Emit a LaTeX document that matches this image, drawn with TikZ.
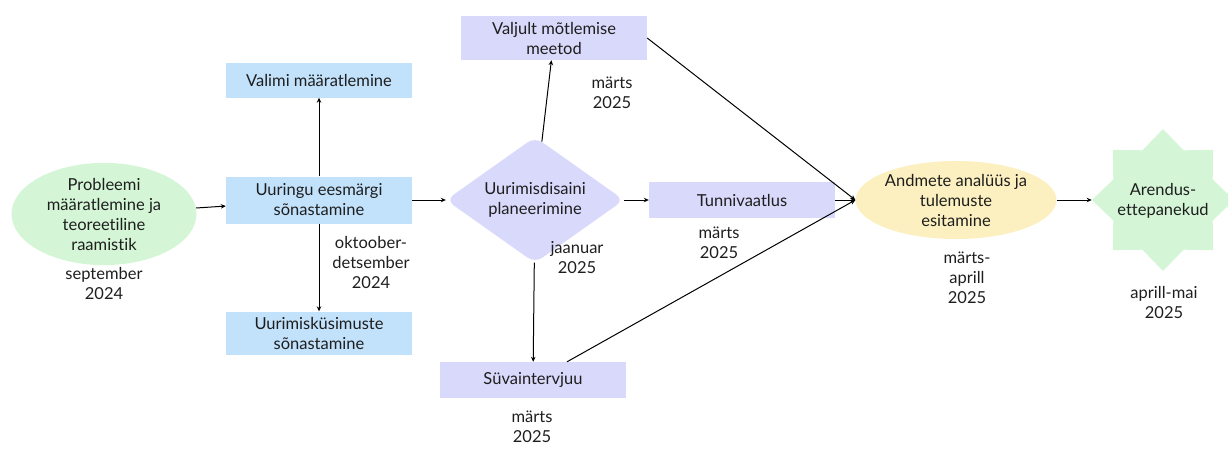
\documentclass[tikz,border=0pt]{standalone}
\usepackage{fontspec}
\setmainfont[Ligatures={NoCommon}]{Lato}
\usetikzlibrary{shapes.geometric,arrows.meta}
\definecolor{cblue}{HTML}{C2E2FB}
\definecolor{clav}{HTML}{D9D9FB}
\definecolor{cgreen}{HTML}{D4F6D6}
\definecolor{cyel}{HTML}{FCF0C0}
\definecolor{ctext}{HTML}{1E1E1E}
\tikzset{
  every node/.style={font=\fontsize{16.5}{20}\selectfont, text=ctext, align=center},
  bluebox/.style={rectangle, fill=cblue, minimum width=186pt, inner sep=0pt},
  lavbox/.style={rectangle, fill=clav, minimum width=186pt, inner sep=0pt},
  datelbl/.style={inner sep=0pt},
  conn/.style={line width=1pt, -{Stealth[length=5pt,width=4.5pt]}},
}
\begin{document}
\begin{tikzpicture}[x=1pt,y=-1pt]
\useasboundingbox (0,0) rectangle (1228,448);
% nodes
\node[ellipse, fill=cgreen, minimum width=185pt, minimum height=92pt, inner sep=0pt] (p) at (104,214) {Probleemi\\määratlemine ja\\teoreetiline\\raamistik};
\node[datelbl] (lp) at (104,283) {september\\2024};

\node[bluebox, minimum height=47pt] (u) at (319,200) {Uuringu eesmärgi\\sõnastamine};
\node[bluebox, minimum height=35pt] (val) at (319,80) {Valimi määratlemine};
\node[bluebox, minimum height=43pt] (uk) at (319,333) {Uurimisküsimuste\\sõnastamine};
\node[datelbl] (lu) at (371,262) {oktoober-\\detsember\\2024};

\node[diamond, fill=clav, minimum width=178pt, minimum height=126pt, aspect=1.41, inner sep=0pt, rounded corners=9pt] (d) at (535,200) {Uurimisdisaini\\planeerimine};
\node[datelbl] (ld) at (577,258) {jaanuar\\2025};

\node[lavbox, minimum height=44pt] (v) at (554,38) {Valjult mõtlemise\\meetod};
\node[datelbl] (lv) at (612,93) {märts\\2025};

\node[lavbox, minimum height=36pt] (t) at (742,200) {Tunnivaatlus};
\node[datelbl] (lt) at (719,243) {märts\\2025};

\node[lavbox, minimum height=36pt] (s) at (533,380) {Süvaintervjuu};
\node[datelbl] (ls) at (532,427) {märts\\2025};

\node[ellipse, fill=cyel, minimum width=187pt, minimum height=78pt, inner sep=0pt] (a) at (956,200) {Andmete analüüs ja\\tulemuste\\esitamine};
\node[datelbl] (la) at (967,278) {märts-\\aprill\\2025};

\node[star, star points=8, star point ratio=1.32, minimum size=142pt, fill=cgreen, inner sep=0pt] (st) at (1163,200) {};
\node (stt) at (1163,201) {Arendus-\\ettepanekud};
\node[datelbl] (lst) at (1164,302) {aprill-mai\\2025};

% connectors
\draw[conn] (p) -- (u);
\draw[conn] (u) -- (val);
\draw[conn] (u) -- (uk);
\draw[conn] (u.east) -- (d.west);
\draw[conn] (d) -- (v);
\draw[conn] (d) -- (s);
\draw[conn] (d.east) -- (t.west);
\draw[conn] (v.east) -- (a.west);
\draw[conn] (t.east) -- (a.west);
\draw[conn] ([xshift=34pt]s.north) -- (a.west);
\draw[conn] (a.east) -- (st.west);
\end{tikzpicture}
\end{document}
